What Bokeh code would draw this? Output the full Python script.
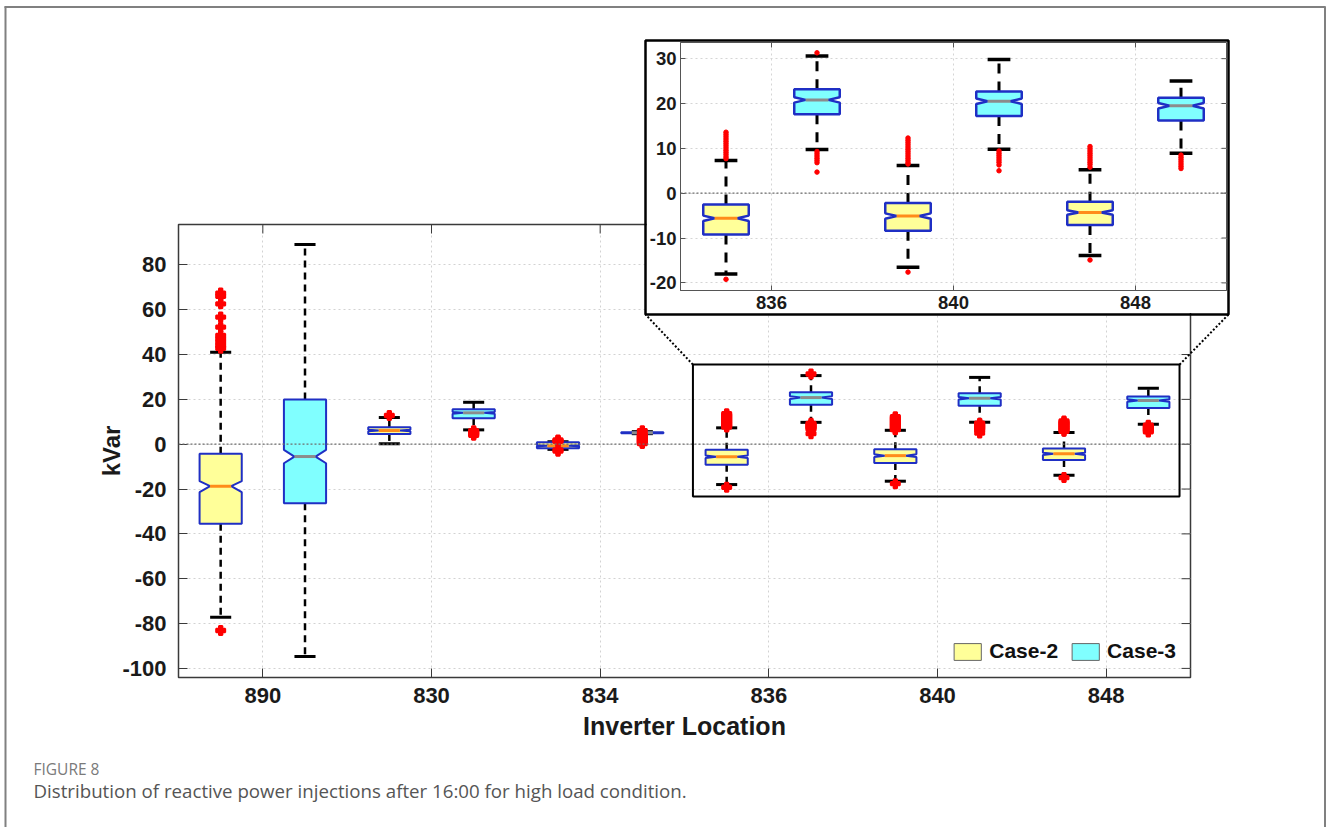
import numpy as np
from bokeh.plotting import figure
from bokeh.models import (Range1d, FixedTicker, Span, BoxAnnotation, Legend, LegendItem, Label,
                          ColumnDataSource)
from bokeh.embed import file_html
from bokeh.resources import INLINE

# ---------------- data ----------------
locations = ["890", "830", "834", "836", "840", "848"]
cases = ["Case-2", "Case-3"]
# order of boxes: 890 C2, 890 C3, 830 C2, 830 C3, 834 C2, 834 C3, 836 C2, 836 C3, 840 C2, 840 C3, 848 C2, 848 C3
upper_whisker = [41.0, 89.1, 11.9, 18.7, 1.1, 5.6, 7.3, 30.6, 6.2, 29.8, 5.2, 25.0]
q3 = [-4.3, 19.9, 7.6, 15.6, 0.9, 5.3, -2.5, 23.2, -2.2, 22.7, -1.9, 21.3]
notch_hi = [-16.5, -2.5, 6.4, 14.4, -0.5, 5.15, -5.0, 21.4, -4.5, 21.1, -3.8, 20.1]
median = [-18.7, -5.5, 6.1, 14.0, -0.7, 5.1, -5.6, 20.8, -5.1, 20.5, -4.3, 19.5]
notch_lo = [-21.4, -8.5, 5.8, 13.6, -0.9, 5.05, -6.2, 20.2, -5.7, 19.9, -4.8, 18.9]
q1 = [-35.5, -26.3, 4.6, 11.6, -1.8, 4.9, -9.2, 17.6, -8.4, 17.2, -7.1, 16.2]
lower_whisker = [-77.2, -94.7, 0.2, 6.4, -2.3, 4.7, -18.0, 9.75, -16.5, 9.8, -13.9, 8.9]
outliers = [
    [67.4, 66.0, 62.6, 56.7, 52.2, 48.5, 47.0, 45.5, 44.0, 42.8, -83.1],
    [],
    [12.8],
    [6.0, 5.6, 5.2, 4.8, 4.4, 4.0],
    [1.9, 1.6, 1.3, -2.6, -3.1],
    [6.0, 4.2, 3.8, 3.4, 3.0, 2.6, 2.2, 1.8, 1.4, 1.0, 0.6, 0.3],
    [13.6, 13.1, 12.6, 12.1, 11.6, 11.1, 10.6, 10.1, 9.6, 9.1, 8.6, 8.1, 7.7, -19.2],
    [31.3, 9.3, 8.8, 8.3, 7.8, 7.3, 6.8, 4.7],
    [12.3, 11.8, 11.3, 10.8, 10.3, 9.8, 9.3, 8.8, 8.3, 7.8, 7.3, 6.8, 6.5, -17.6],
    [9.4, 8.9, 8.4, 7.9, 7.4, 6.9, 6.3, 5.0],
    [10.4, 9.9, 9.4, 8.9, 8.4, 7.9, 7.4, 6.9, 6.4, 5.8, -14.9],
    [8.5, 8.0, 7.5, 7.0, 6.5, 6.0, 5.5],
]
main_yticks = [-100, -80, -60, -40, -20, 0, 20, 40, 60, 80]
inset_yticks = [-20, -10, 0, 10, 20, 30]
zoom_x = [6.6, 12.37]
zoom_y = [-23.3, 35.5]
caption_label = "FIGURE 8"
caption_text = "Distribution of reactive power injections after 16:00 for high load condition."

# ---------------- styling ----------------
FILL = {"Case-2": "#FFFF99", "Case-3": "#80FFFF"}
MED = {"Case-2": "#FF8C1A", "Case-3": "#8C8C8C"}
EDGE = "#1F2FC4"
FONT = "Liberation Sans"
BOXW = 0.5
W, H = 1326, 827

# main frame geometry (page pixels)
FL, FR, FT, FB = 178, 1190, 224, 677
MX = (0.5, 12.5)
MY = (-104.06, 98.0)
# inset placement (page pixels)
IL, IT, IW, IH = 646, 41, 581, 272

n = len(median)
pos = [2 * i + j + 1 for i in range(len(locations)) for j in range(len(cases))]
case_of = [cases[j] for i in range(len(locations)) for j in range(len(cases))]
tick_pos = [2 * i + 1.5 for i in range(len(locations))]

hw, nw = BOXW / 2, BOXW / 4
xs, ys = [], []
for k in range(n):
    x = pos[k]
    xs.append([x - hw, x + hw, x + hw, x + nw, x + hw, x + hw, x - hw, x - hw, x - nw, x - hw])
    ys.append([q1[k], q1[k], notch_lo[k], median[k], notch_hi[k], q3[k], q3[k], notch_hi[k], median[k], notch_lo[k]])
box_src = ColumnDataSource(dict(xs=xs, ys=ys, fill=[FILL[c] for c in case_of]))
med_src = ColumnDataSource(dict(x0=[p - nw for p in pos], x1=[p + nw for p in pos], y=median,
                                c=[MED[c] for c in case_of]))
wh_src = ColumnDataSource(dict(x=pos, q3=q3, uw=upper_whisker, q1=q1, lw=lower_whisker,
                               cl=[p - BOXW / 4 for p in pos], cr=[p + BOXW / 4 for p in pos]))
ox, oy = [], []
for k in range(n):
    for v in outliers[k]:
        ox.append(pos[k]); oy.append(v)
out_src = ColumnDataSource(dict(x=ox, y=oy))


def draw_boxes(p, dash, wl, edge_w, inset):
    p.segment(x0="x", y0="q3", x1="x", y1="uw", source=wh_src, line_color="black",
              line_width=wl, line_dash=dash)
    p.segment(x0="x", y0="q1", x1="x", y1="lw", source=wh_src, line_color="black",
              line_width=wl, line_dash=dash)
    p.segment(x0="cl", y0="uw", x1="cr", y1="uw", source=wh_src, line_color="black", line_width=wl + 0.5)
    p.segment(x0="cl", y0="lw", x1="cr", y1="lw", source=wh_src, line_color="black", line_width=wl + 0.5)
    p.patches(xs="xs", ys="ys", source=box_src, fill_color="fill", line_color=EDGE, line_width=edge_w)
    p.segment(x0="x0", y0="y", x1="x1", y1="y", source=med_src, line_color="c", line_width=3)
    if inset:
        p.scatter(x="x", y="y", source=out_src, marker="circle", size=4.5, fill_color="red",
                  line_color="red")
    else:
        p.scatter(x="x", y="y", source=out_src, marker="plus", size=9, line_color="red",
                  fill_color="red", line_width=2)


def style_axes(fig, size, color, tick_len):
    for ax in (fig.xaxis[0], fig.yaxis[0]):
        ax.major_tick_in = tick_len
        ax.major_tick_out = 0
        ax.minor_tick_line_color = None
        ax.axis_line_color = color
        ax.major_tick_line_color = color
        ax.major_label_text_font = FONT
        ax.major_label_text_font_style = "bold"
        ax.major_label_text_font_size = size
        ax.major_label_text_color = "#1a1a1a"
        ax.axis_label_text_font = FONT
        ax.axis_label_text_font_style = "bold"
        ax.axis_label_text_color = "#1a1a1a"


# ---------------- main figure ----------------
p = figure(width=W, height=H, x_range=Range1d(*MX), y_range=Range1d(*MY),
           output_backend="svg", toolbar_location=None,
           min_border_left=FL, min_border_right=W - FR, min_border_top=FT, min_border_bottom=H - FB,
           background_fill_color="white", border_fill_color="white",
           styles={"position": "absolute", "left": "0px", "top": "0px"})
p.outline_line_color = "#3a3a3a"
p.outline_line_width = 1.5
p.xaxis.ticker = FixedTicker(ticks=tick_pos)
p.xaxis.major_label_overrides = {t: l for t, l in zip(tick_pos, locations)}
p.yaxis.ticker = FixedTicker(ticks=main_yticks)
p.yaxis.major_label_overrides = {t: str(t) for t in main_yticks}
style_axes(p, "22px", "#3a3a3a", 9)
p.xaxis.major_label_standoff = 10
p.yaxis.major_label_standoff = 12
p.xaxis.axis_label = "Inverter Location"
p.xaxis.axis_label_text_font_size = "25px"
p.xaxis.axis_label_standoff = 6
p.yaxis.axis_label = "kVar"
p.yaxis.axis_label_text_font_size = "24px"
p.yaxis.axis_label_standoff = -6

for g in (p.xgrid[0], p.ygrid[0]):
    g.grid_line_color = "#d2d2d2"
    g.grid_line_dash = "2 3"
    g.grid_line_width = 1
p.xgrid.ticker = FixedTicker(ticks=tick_pos)
p.ygrid.ticker = FixedTicker(ticks=main_yticks)

# tick marks on the top and right edges (box on)
p.ray(x=tick_pos, y=[MY[1]] * len(tick_pos), length=9, length_units="screen", angle=-np.pi / 2,
      line_color="#3a3a3a", line_width=1)
p.ray(x=[MX[1]] * len(main_yticks), y=main_yticks, length=9, length_units="screen", angle=np.pi,
      line_color="#3a3a3a", line_width=1)

p.add_layout(Span(location=0, dimension="width", line_color="#6e6e6e", line_dash="2 2", line_width=1.3))
draw_boxes(p, "7 5", 2.5, 2, False)

leg_r = []
for c in cases:
    leg_r.append(p.quad(left=[np.nan], right=[np.nan], top=[np.nan], bottom=[np.nan],
                        fill_color=FILL[c], line_color="#666666", line_width=1))
legend = Legend(items=[LegendItem(label=c, renderers=[r]) for c, r in zip(cases, leg_r)],
                location="bottom_right", orientation="horizontal", margin=10, padding=4,
                spacing=10, glyph_width=34, glyph_height=21, label_standoff=5,
                label_text_font=FONT, label_text_font_style="bold", label_text_font_size="21px",
                label_text_color="#111111", background_fill_alpha=0, border_line_alpha=0)
p.add_layout(legend)

p.add_layout(BoxAnnotation(left=zoom_x[0], right=zoom_x[1], bottom=zoom_y[0], top=zoom_y[1],
                           fill_color=None, fill_alpha=0, line_color="black", line_alpha=1,
                           line_width=2))

# ---------------- inset ----------------
IX = (6.5, 12.5)
IY = (-21.7, 33.6)
q = figure(width=IW, height=IH, x_range=Range1d(*IX), y_range=Range1d(*IY),
           output_backend="svg", toolbar_location=None,
           min_border_left=32, min_border_right=1, min_border_top=1, min_border_bottom=23,
           background_fill_color="white", border_fill_color="white",
           styles={"position": "absolute", "left": f"{IL}px", "top": f"{IT}px"})
q.outline_line_color = "#555555"
q.outline_line_width = 1
inset_ticks = tick_pos[3:]
q.xaxis.ticker = FixedTicker(ticks=inset_ticks)
q.xaxis.major_label_overrides = {t: l for t, l in zip(inset_ticks, locations[3:])}
q.yaxis.ticker = FixedTicker(ticks=inset_yticks)
q.yaxis.major_label_overrides = {t: str(t) for t in inset_yticks}
style_axes(q, "18.5px", "#555555", 5)
q.xaxis.major_label_standoff = 5
q.yaxis.major_label_standoff = 4
for g in (q.xgrid[0], q.ygrid[0]):
    g.grid_line_color = "#d5d5d5"
    g.grid_line_dash = "2 3"
q.xgrid.ticker = FixedTicker(ticks=inset_ticks)
q.ygrid.ticker = FixedTicker(ticks=inset_yticks)
q.ray(x=inset_ticks, y=[IY[1]] * len(inset_ticks), length=5, length_units="screen", angle=-np.pi / 2,
      line_color="#555555", line_width=1)
q.ray(x=[IX[1]] * len(inset_yticks), y=inset_yticks, length=5, length_units="screen", angle=np.pi,
      line_color="#555555", line_width=1)
q.add_layout(Span(location=0, dimension="width", line_color="#6e6e6e", line_dash="2 2", line_width=1.3))
draw_boxes(q, "10 8", 3, 2.5, True)

# ---------------- page overlay (frame, inset border, connectors, caption) ----------------
o = figure(width=W, height=H, x_range=Range1d(0, W), y_range=Range1d(H, 0),
           output_backend="svg", toolbar_location=None, x_axis_location=None, y_axis_location=None,
           min_border=0, background_fill_alpha=0, border_fill_alpha=0,
           styles={"position": "absolute", "left": "0px", "top": "0px", "pointer-events": "none"})
o.outline_line_color = None
o.grid.visible = False


def mx(v):
    return FL + (v - MX[0]) / (MX[1] - MX[0]) * (FR - FL)


def my(v):
    return FT + (MY[1] - v) / (MY[1] - MY[0]) * (FB - FT)


# page border (left, top, right)
o.multi_line(xs=[[5, 5], [4, 1325], [1324.5, 1324.5]], ys=[[6, H], [6.5, 6.5], [6, H]],
             line_color="#808080", line_width=2)
# inset border
o.quad(left=[IL - 1], right=[IL + IW + 1], top=[IT - 1], bottom=[IT + IH + 1], fill_color=None,
       line_color="black", line_width=2.5)
# connectors from zoom rectangle to inset
o.segment(x0=[mx(zoom_x[0]), mx(zoom_x[1])], y0=[my(zoom_y[1])] * 2,
          x1=[IL - 1, IL + IW + 1], y1=[IT + IH + 1] * 2,
          line_color="black", line_width=2, line_dash="2 2")
o.add_layout(Label(x=33, y=768, text=caption_label, text_font="Open Sans", text_font_size="15.5px",
                   text_color="#7a7a7a", text_baseline="middle", text_align="left"))
o.add_layout(Label(x=33, y=790, text=caption_text, text_font="Open Sans", text_font_size="18.7px",
                   text_color="#555555", text_baseline="middle", text_align="left"))

open("out.html", "w").write(file_html([p, q, o], INLINE))
